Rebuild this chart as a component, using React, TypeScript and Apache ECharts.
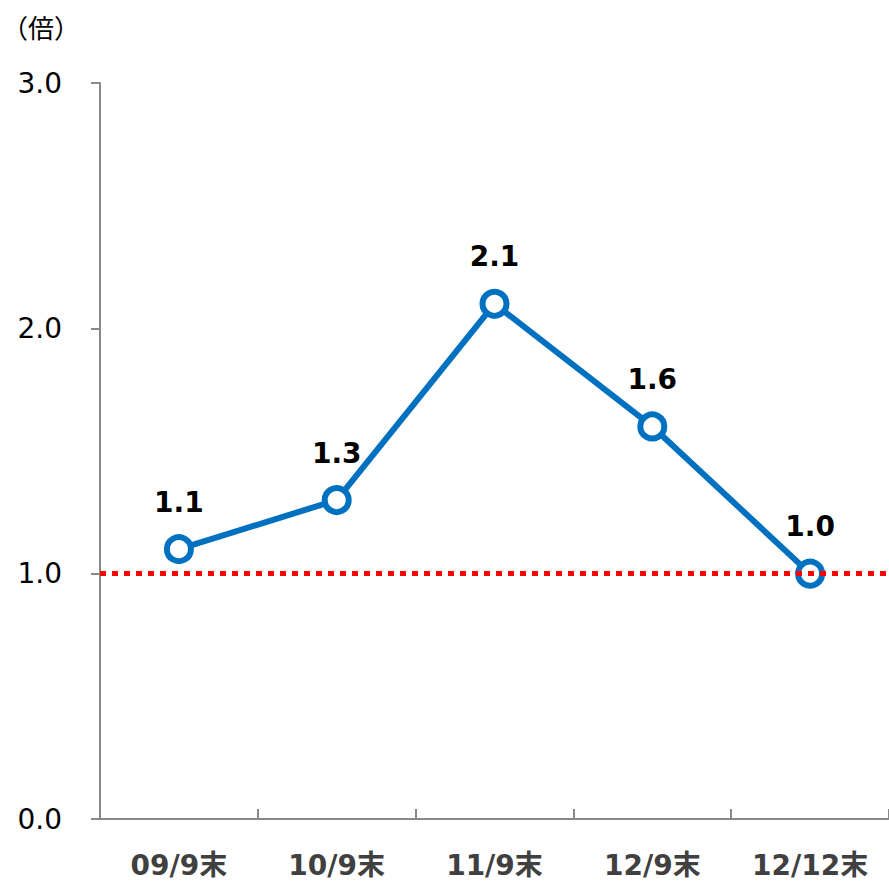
import React, { useEffect, useRef } from "react";
import * as echarts from "echarts";

const categories = ["09/9末", "10/9末", "11/9末", "12/9末", "12/12末"];
const values = [1.1, 1.3, 2.1, 1.6, 1.0];
const yTicks = [0, 1, 2, 3];
const refLine = 1.0;
const unitLabel = "（倍）";

export default function App() {
  const ref = useRef<HTMLDivElement>(null);
  useEffect(() => {
    if (!ref.current) return;
    const chart = echarts.init(ref.current, undefined, { renderer: "svg" });
    chart.setOption({
      animation: false,
      backgroundColor: "#ffffff",
      grid: { left: 100, right: 0, top: 83, bottom: 62, containLabel: false },
      graphic: [
        {
          type: "text",
          left: 2,
          top: 13,
          style: { text: unitLabel, font: "26px 'Noto Sans CJK JP'", fill: "#000" },
        },
      ],
      xAxis: {
        type: "category",
        data: categories,
        boundaryGap: true,
        axisLine: { lineStyle: { color: "#888", width: 2 } },
        axisTick: { show: true, inside: true, length: 10, lineStyle: { color: "#888", width: 2 } },
        axisLabel: {
          margin: 32,
          color: "#404040",
          fontSize: 28,
          fontWeight: "bold",
          fontFamily: "'DejaVu Sans', 'Noto Sans CJK JP'",
        },
      },
      yAxis: {
        type: "value",
        min: yTicks[0],
        max: yTicks[yTicks.length - 1],
        interval: 1,
        splitLine: { show: false },
        axisLine: { show: true, lineStyle: { color: "#888", width: 2 } },
        axisTick: { show: true, length: 9, lineStyle: { color: "#888", width: 2 } },
        axisLabel: {
          margin: 38,
          color: "#000",
          fontSize: 28,
          fontFamily: "'DejaVu Sans'",
          formatter: (v: number) => v.toFixed(1),
        },
      },
      series: [
        {
          type: "line",
          data: values,
          lineStyle: { color: "#0070C0", width: 6 },
          symbol: "circle",
          symbolSize: 24,
          itemStyle: { color: "#ffffff", borderColor: "#0070C0", borderWidth: 6 },
          z: 3,
          label: {
            show: true,
            position: "top",
            distance: 18,
            color: "#000",
            fontSize: 28,
            fontWeight: "bold",
            fontFamily: "'DejaVu Sans'",
            formatter: (p: any) => Number(p.value).toFixed(1),
          },
          markLine: {
            silent: true,
            symbol: "none",
            label: { show: false },
            lineStyle: { color: "#FF0000", width: 5, type: [6, 6] },
            data: [{ yAxis: refLine }],
            z: 4,
          },
        },
      ],
    });
    return () => chart.dispose();
  }, []);
  return <div ref={ref} style={{ width: 889, height: 881, position: "absolute", left: 0, top: 0 }} />;
}
